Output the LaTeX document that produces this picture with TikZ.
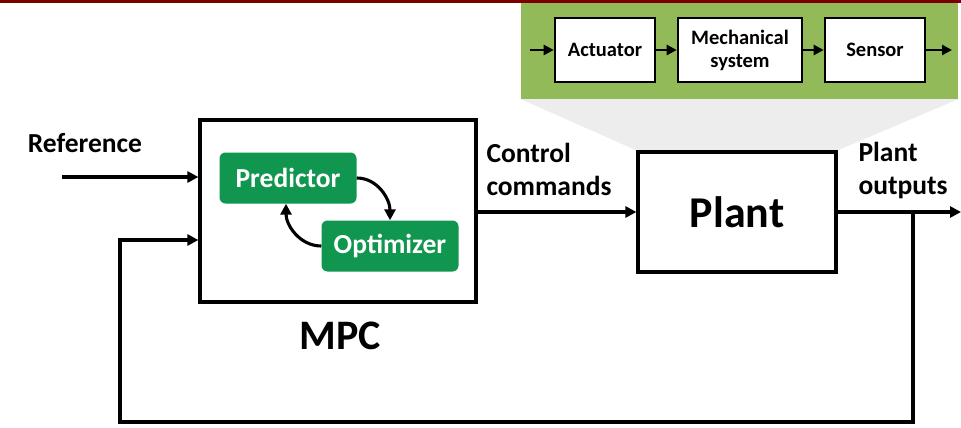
\documentclass[tikz,border=0pt]{standalone}
\usepackage{fontspec}
\setmainfont{Carlito}
\usetikzlibrary{positioning,arrows.meta,backgrounds}

\definecolor{mpcgreen}{RGB}{16,150,78}
\definecolor{zoomgreen}{RGB}{146,186,88}
\definecolor{zoomgray}{RGB}{237,237,237}
\definecolor{barred}{RGB}{122,0,0}

\tikzset{
  blk/.style={draw,line width=3.2pt,fill=white,align=center,font=\bfseries},
  subblk/.style={blk,line width=2.6pt,minimum height=64,font=\bfseries\fontsize{20.5}{23}\selectfont},
  mpcpart/.style={fill=mpcgreen,rounded corners=6pt,text=white,minimum width=137,minimum height=51,font=\bfseries\fontsize{27.5}{29}\selectfont},
  lbl/.style={font=\bfseries\fontsize{27.5}{33}\selectfont,align=left},
  arr/.style={line width=3.1pt,-{Triangle[length=11pt,width=11pt]}},
  subarr/.style={line width=2.8pt,-{Triangle[length=10pt,width=10pt]}}
}

\begin{document}
\begin{tikzpicture}[x=1pt,y=1pt]
  \useasboundingbox (0,0) rectangle (961,-428);

  % MPC and its parts
  \node[blk,minimum width=276,minimum height=182] (mpc) at (338,-211) {};
  \node[mpcpart] (pred) at (288,-178) {Predictor};
  \node[mpcpart] (opt) at (390,-246) {Optimizer};
  \node[font=\bfseries\fontsize{42}{44}\selectfont] (mpclbl) at (340,-336) {MPC};

  % plant
  \node[blk,minimum width=198,minimum height=120,font=\bfseries\fontsize{44}{46}\selectfont] (plant) at (737,-212) {Plant};

  % zoomed plant
  \node[fill=zoomgreen,minimum width=437,minimum height=97,inner sep=0] (zoom) at (739.5,-50.5) {};
  \node[subblk,minimum width=100] (act) at (605,-50) {Actuator};
  \node[subblk,minimum width=124] (mech) at (740,-50) {Mechanical\\system};
  \node[subblk,minimum width=100] (sens) at (875,-50) {Sensor};
  \coordinate (subin) at (530,-50);
  \coordinate (subout) at (952,-50);

  \begin{pgfonlayer}{background}
    \fill[zoomgray] (zoom.south west) -- (zoom.south east) -- (plant.north east) -- (plant.north west) -- cycle;
  \end{pgfonlayer}

  \draw[subarr] (subin) -- (act);
  \draw[subarr] (act) -- (mech);
  \draw[subarr] (mech) -- (sens);
  \draw[subarr] (sens) -- (subout);

  \fill[barred] (0,0) rectangle (961,-3);

  % labels
  \node[lbl] (reflbl) at (85,-143) {Reference};
  \node[lbl,anchor=north west] (ctrllbl) at (483,-140) {Control\\commands};
  \node[lbl,anchor=north west] (outlbl) at (855,-139) {Plant\\outputs};

  % connectors
  \coordinate (refin) at (62,-177);
  \coordinate (fblevel) at (0,-240);
  \coordinate (tap) at (913,-212);
  \coordinate (fbturn) at (120,-422);
  \coordinate (out) at (961,-212);

  \draw[arr] (refin) -- (mpc.west |- refin);
  \draw[arr] (mpc.east |- plant.west) -- (plant.west);
  \draw[arr] (plant.east) -- (out);
  \draw[arr] (tap) |- (fbturn) |- (mpc.west |- fblevel);
  \draw[arr] (pred.east) to[out=0,in=90] (opt.north);
  \draw[arr] (opt.west) to[out=180,in=-90] ([xshift=-2pt]pred.south);
\end{tikzpicture}
\end{document}
